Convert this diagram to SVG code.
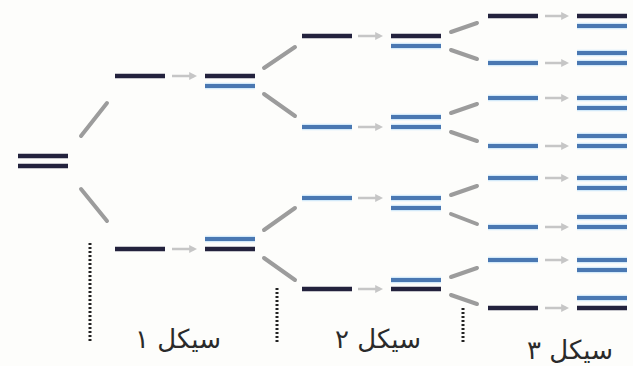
<svg xmlns="http://www.w3.org/2000/svg" width="633" height="366" viewBox="0 0 633 366">
  <style>
    .dk { stroke: #23223d; stroke-width: 4.5; }
    .bl { stroke: #4a78b2; stroke-width: 4; }
    .halo { stroke: #d3eafa; stroke-width: 6.5; }
    .diag { stroke: #9c9c9c; stroke-width: 4; stroke-linecap: round; fill: none; }
    .step { stroke: #c6c6c6; stroke-width: 2.5; fill: none; marker-end: url(#head); }
    .dots { stroke: #222; stroke-width: 3; stroke-dasharray: 2 2; }
    .lbl { font-family: "DejaVu Sans", "Noto Sans", sans-serif; font-size: 26px; fill: #2a2a2a; }
  </style>
  <defs>
    <marker id="head" viewBox="0 0 10 10" refX="6" refY="5" markerWidth="3.2" markerHeight="3.2" orient="auto">
      <path d="M0,0 L10,5 L0,10 z" fill="#c6c6c6"/>
    </marker>
    <!-- strand templates, 50px long -->
    <g id="dark"><line class="dk" x1="0" y1="0" x2="50" y2="0"/></g>
    <g id="blue"><line class="halo" x1="0" y1="0" x2="50" y2="0"/><line class="bl" x1="0" y1="0" x2="50" y2="0"/></g>
  </defs>
  <rect width="633" height="366" fill="#fdfdfb"/>

  <!-- parent duplex -->
  <g id="root">
    <use href="#dark" x="18" y="156"/>
    <use href="#dark" x="18" y="166"/>
  </g>

  <!-- cycle 1 -->
  <g id="g1a">
    <use href="#dark" x="115" y="76"/>
    <line class="step" x1="172" y1="76" x2="194" y2="76"/>
    <use href="#dark" x="205" y="76"/>
    <use href="#blue" x="205" y="86"/>
  </g>
  <g id="g1b">
    <use href="#dark" x="115" y="249"/>
    <line class="step" x1="172" y1="249" x2="194" y2="249"/>
    <use href="#blue" x="205" y="239"/>
    <use href="#dark" x="205" y="249"/>
  </g>

  <!-- cycle 2 -->
  <g id="g2a">
    <use href="#dark" x="302" y="36"/>
    <line class="step" x1="358" y1="36" x2="380" y2="36"/>
    <use href="#dark" x="391" y="36"/>
    <use href="#blue" x="391" y="46"/>
  </g>
  <g id="g2b">
    <use href="#blue" x="302" y="127"/>
    <line class="step" x1="358" y1="127" x2="380" y2="127"/>
    <use href="#blue" x="391" y="117"/>
    <use href="#blue" x="391" y="127"/>
  </g>
  <g id="g2c">
    <use href="#blue" x="302" y="198"/>
    <line class="step" x1="358" y1="198" x2="380" y2="198"/>
    <use href="#blue" x="391" y="198"/>
    <use href="#blue" x="391" y="208"/>
  </g>
  <g id="g2d">
    <use href="#dark" x="302" y="289"/>
    <line class="step" x1="358" y1="289" x2="380" y2="289"/>
    <use href="#blue" x="391" y="280"/>
    <use href="#dark" x="391" y="289"/>
  </g>

  <!-- cycle 3 -->
  <g id="g3a">
    <use href="#dark" x="488" y="16"/>
    <line class="step" x1="545" y1="16" x2="566" y2="16"/>
    <use href="#dark" x="577" y="16"/>
    <use href="#blue" x="577" y="26"/>
  </g>
  <g id="g3b">
    <use href="#blue" x="488" y="63"/>
    <line class="step" x1="545" y1="63" x2="566" y2="63"/>
    <use href="#blue" x="577" y="53"/>
    <use href="#blue" x="577" y="63"/>
  </g>
  <g id="g3c">
    <use href="#blue" x="488" y="98"/>
    <line class="step" x1="545" y1="98" x2="566" y2="98"/>
    <use href="#blue" x="577" y="98"/>
    <use href="#blue" x="577" y="108"/>
  </g>
  <g id="g3d">
    <use href="#blue" x="488" y="146"/>
    <line class="step" x1="545" y1="146" x2="566" y2="146"/>
    <use href="#blue" x="577" y="136"/>
    <use href="#blue" x="577" y="146"/>
  </g>
  <g id="g3e">
    <use href="#blue" x="488" y="178"/>
    <line class="step" x1="545" y1="178" x2="566" y2="178"/>
    <use href="#blue" x="577" y="178"/>
    <use href="#blue" x="577" y="188"/>
  </g>
  <g id="g3f">
    <use href="#blue" x="488" y="227"/>
    <line class="step" x1="545" y1="227" x2="566" y2="227"/>
    <use href="#blue" x="577" y="217"/>
    <use href="#blue" x="577" y="227"/>
  </g>
  <g id="g3g">
    <use href="#blue" x="488" y="260"/>
    <line class="step" x1="545" y1="260" x2="566" y2="260"/>
    <use href="#blue" x="577" y="260"/>
    <use href="#blue" x="577" y="270"/>
  </g>
  <g id="g3h">
    <use href="#dark" x="488" y="308"/>
    <line class="step" x1="545" y1="308" x2="566" y2="308"/>
    <use href="#blue" x="577" y="298"/>
    <use href="#dark" x="577" y="308"/>
  </g>

  <!-- strand separation connectors -->
  <g id="connectors">
    <line class="diag" x1="81" y1="136" x2="107" y2="103"/>
    <line class="diag" x1="81" y1="189" x2="107" y2="221"/>

    <line class="diag" x1="264" y1="68" x2="295" y2="47"/>
    <line class="diag" x1="264" y1="94" x2="295" y2="116"/>
    <line class="diag" x1="264" y1="230" x2="295" y2="208"/>
    <line class="diag" x1="264" y1="258" x2="295" y2="280"/>

    <line class="diag" x1="451" y1="32" x2="477" y2="23"/>
    <line class="diag" x1="451" y1="50" x2="477" y2="59"/>
    <line class="diag" x1="451" y1="113" x2="477" y2="104"/>
    <line class="diag" x1="451" y1="132" x2="477" y2="141"/>
    <line class="diag" x1="451" y1="195" x2="477" y2="186"/>
    <line class="diag" x1="451" y1="214" x2="477" y2="224"/>
    <line class="diag" x1="451" y1="277" x2="477" y2="268"/>
    <line class="diag" x1="451" y1="295" x2="477" y2="304"/>
  </g>

  <!-- cycle boundaries -->
  <line class="dots" x1="90" y1="243" x2="90" y2="342"/>
  <line class="dots" x1="277" y1="288" x2="277" y2="342"/>
  <line class="dots" x1="463" y1="308" x2="463" y2="342"/>

  <!-- cycle labels -->
  <text class="lbl" x="178" y="348" text-anchor="middle" direction="rtl">سیکل ۱</text>
  <text class="lbl" x="378" y="348" text-anchor="middle" direction="rtl">سیکل ۲</text>
  <text class="lbl" x="570" y="359" text-anchor="middle" direction="rtl">سیکل ۳</text>
</svg>
